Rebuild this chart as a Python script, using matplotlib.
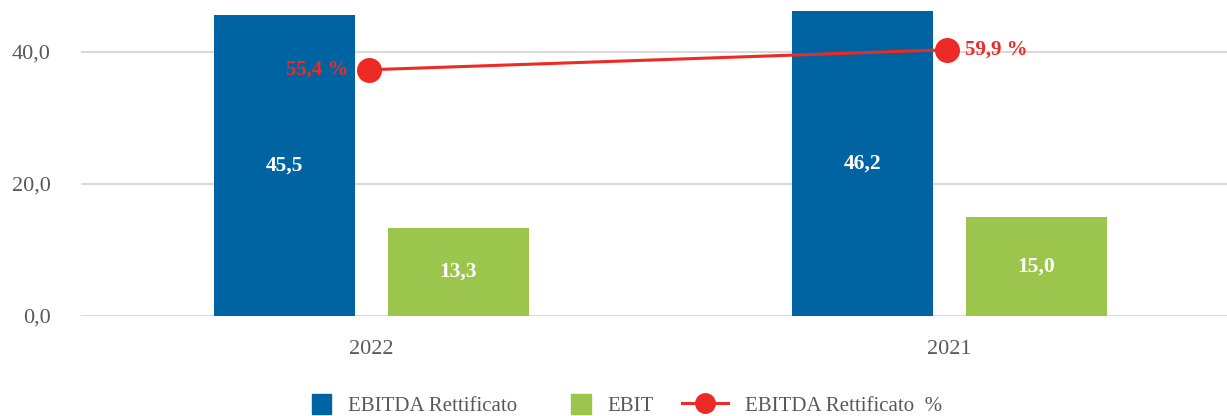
import numpy as np
import matplotlib.pyplot as plt
from matplotlib.lines import Line2D
from matplotlib.patches import Patch, Rectangle
from matplotlib.legend_handler import HandlerPatch

plt.rcParams['font.family'] = ['Liberation Serif', 'DejaVu Serif']

years = ['2022', '2021']
ebitda = [45.5, 46.2]
ebit = [13.3, 15.0]
margin = [55.4, 59.9]

blue = '#0064A3'
green = '#9BC54C'
red = '#EE2A24'
grey = '#595959'

fig = plt.figure(figsize=(12.27, 4.16), dpi=100)
ax = fig.add_axes([0.066, 0.2404, 0.934, 0.7596])
x = np.arange(len(years))
w = 0.244
off = 0.1505

b1 = ax.bar(x - off, ebitda, w, color=blue, zorder=2)
b2 = ax.bar(x + off, ebit, w, color=green, zorder=2)
for bars, vals in [(b1, ebitda), (b2, ebit)]:
    for r, v in zip(bars, vals):
        ax.text(r.get_x() + r.get_width() / 2, v / 2, f'{v:.1f}'.replace('.', ','),
                ha='center', va='center', color='white', fontsize=15.5, fontweight='bold')

ax.set_ylim(0, 47.8)
ax.set_xlim(-0.5026, 1.48)
ax.set_yticks([0, 20, 40])
ax.set_yticklabels(['0,0', '20,0', '40,0'])
ax.set_xticks(x)
ax.set_xticklabels(years)
ax.tick_params(axis='both', length=0, colors=grey, labelsize=16)
ax.tick_params(axis='y', pad=22)
ax.tick_params(axis='x', pad=17)
ax.grid(axis='y', color='#D9D9D9', linewidth=1.5, zorder=0)
ax.set_axisbelow(True)
for s in ax.spines.values():
    s.set_visible(False)

ax2 = ax.twinx()
ax2.set_ylim(0, 71.1)
ax2.plot(x - 0.004, margin, color=red, lw=2.2, marker='o', markersize=17, zorder=3)
ax2.axis('off')
ax2.text(x[0] - 0.04, margin[0], f'{margin[0]:.1f} %'.replace('.', ','), ha='right', va='center',
         color=red, fontsize=15, fontweight='bold')
ax2.text(x[1] + 0.027, margin[1], f'{margin[1]:.1f} %'.replace('.', ','), ha='left', va='center',
         color=red, fontsize=15, fontweight='bold')


def square(legend, orig_handle, xdescent, ydescent, width, height, fontsize):
    side = height * 1.05
    return Rectangle((width - side - xdescent, -ydescent + height / 2 - side / 2), side, side)


handles = [Patch(color=blue), Patch(color=green),
           Line2D([], [], color=red, lw=2.2, marker='o', markersize=14)]
labels = ['EBITDA Rettificato', 'EBIT', 'EBITDA Rettificato  %']
leg = fig.legend(handles, labels, loc='lower center', bbox_to_anchor=(0.5, -0.045), ncol=3,
                 frameon=False, fontsize=15, handlelength=2.2, handleheight=1.0,
                 columnspacing=1.35, handletextpad=0.8,
                 handler_map={Patch: HandlerPatch(patch_func=square)})
for t in leg.get_texts():
    t.set_color(grey)

fig.savefig('out.png', dpi=100)
